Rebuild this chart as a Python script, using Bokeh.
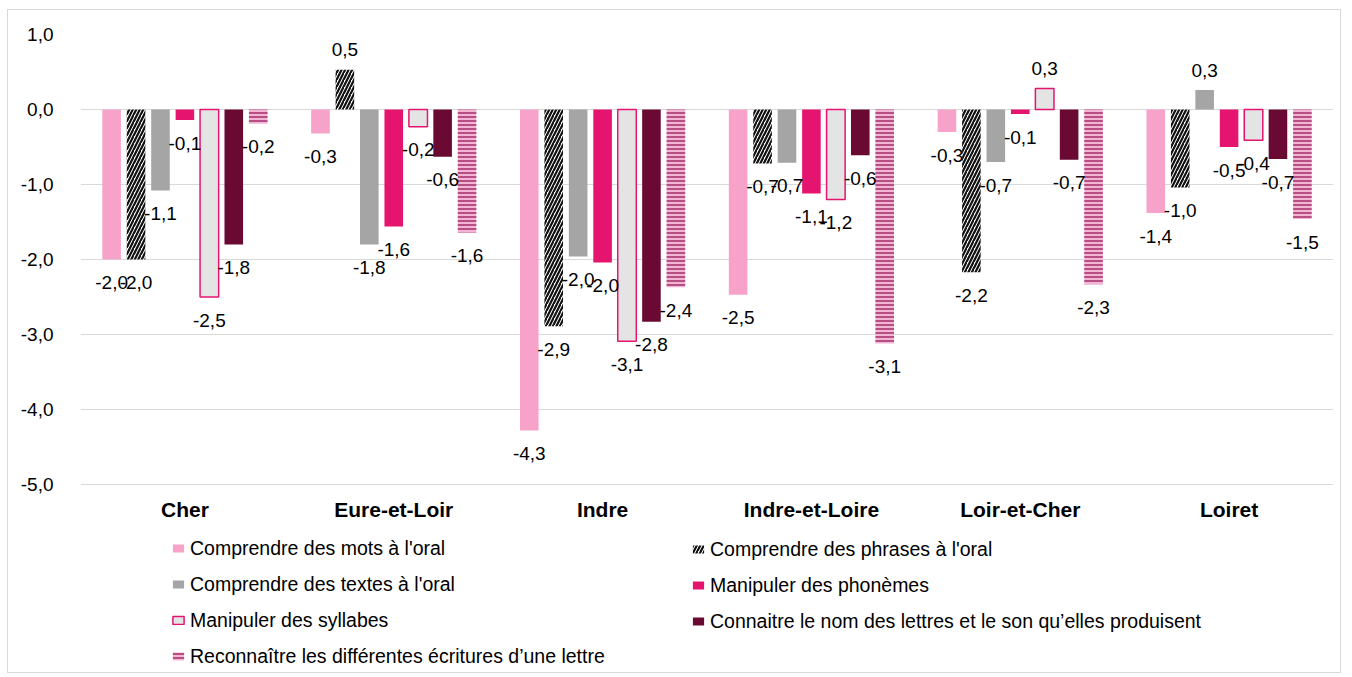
from bokeh.plotting import figure
from bokeh.models import (ColumnDataSource, FactorRange, Range1d, FixedTicker,
                          CustomJSTickFormatter, Legend, LegendItem)
from bokeh.transform import dodge
from bokeh.core.properties import value
from bokeh.embed import file_html
from bokeh.resources import INLINE

categories = ["Cher", "Eure-et-Loir", "Indre", "Indre-et-Loire", "Loir-et-Cher", "Loiret"]

mots = [-2.00, -0.32, -4.28, -2.47, -0.30, -1.38]
phrases = [-2.00, 0.53, -2.89, -0.72, -2.17, -1.04]
textes = [-1.08, -1.80, -1.96, -0.71, -0.70, 0.26]
phonemes = [-0.14, -1.56, -2.04, -1.12, -0.06, -0.50]
syllabes = [-2.50, -0.23, -3.09, -1.20, 0.28, -0.41]
nom_lettres = [-1.80, -0.63, -2.83, -0.61, -0.67, -0.66]
ecritures = [-0.19, -1.64, -2.37, -3.12, -2.33, -1.46]

y_ticks = [-5, -4, -3, -2, -1, 0, 1]

series_names = [
    "Comprendre des mots à l'oral",
    "Comprendre des phrases à l'oral",
    "Comprendre des textes à l'oral",
    "Manipuler des phonèmes",
    "Manipuler des syllabes",
    "Connaitre le nom des lettres et le son qu’elles produisent",
    "Reconnaître les différentes écritures d’une lettre",
]
series_values = [mots, phrases, textes, phonemes, syllabes, nom_lettres, ecritures]

styles = [
    dict(fill_color="#F7A3C9", line_color=None),
    dict(fill_color="white", line_color=None, hatch_pattern="/", hatch_color="#111111",
         hatch_scale=7, hatch_weight=2.2),
    dict(fill_color="#A5A5A5", line_color=None),
    dict(fill_color="#E5156F", line_color=None),
    dict(fill_color="#E4E4E4", line_color="#E5156F", line_width=1.5),
    dict(fill_color="#6A0A33", line_color=None),
    dict(fill_color="#F3B5D4", line_color=None, hatch_pattern="-", hatch_color="#A8346F",
         hatch_scale=4, hatch_weight=1.6),
]

FONT = "Liberation Sans"
FS = "19px"

# frame: 1.0 at top, 75 px per unit, frame extends down to hold the legend
H = 664
MB_TOP, MB_BOTTOM = 24, 4
frame_h = H - MB_TOP - MB_BOTTOM
y_top = 1.0
y_bottom = y_top - frame_h / 75.0

p = figure(x_range=FactorRange(*categories), y_range=Range1d(y_bottom, y_top),
           width=1334, height=H, output_backend="svg", toolbar_location=None,
           min_border_left=72, min_border_right=9, min_border_top=MB_TOP,
           min_border_bottom=MB_BOTTOM,
           styles={"border": "1px solid #D9D9D9", "margin-left": "7px", "margin-top": "9px"})
p.outline_line_color = None
p.xgrid.grid_line_color = None
p.ygrid.grid_line_color = "#D9D9D9"
p.ygrid.grid_line_width = 1

p.yaxis.ticker = FixedTicker(ticks=y_ticks)
p.yaxis.formatter = CustomJSTickFormatter(code="return tick.toFixed(1).replace('.', ',');")
p.yaxis.axis_line_color = None
p.yaxis.major_tick_line_color = None
p.yaxis.minor_tick_line_color = None
p.yaxis.major_label_text_font = FONT
p.yaxis.major_label_text_font_size = FS
p.yaxis.major_label_text_color = "#000000"
p.yaxis.major_label_standoff = 21
p.xaxis.visible = False

step = 0.117
bar_w = 0.089
renderers = []
label_sources = []
for i, (name, vals, st) in enumerate(zip(series_names, series_values, styles)):
    off = (i - 3) * step
    src = ColumnDataSource(dict(
        cat=categories,
        val=vals,
        lbl=[f"{v:.1f}".replace(".", ",") for v in vals],
        yoff=[23 if v < 0 else -20 for v in vals],
    ))
    r = p.vbar(x=dodge("cat", off, range=p.x_range), top="val", bottom=0, width=bar_w,
               source=src, **st)
    renderers.append(r)
    label_sources.append((src, off))

for src, off in label_sources:
    p.text(x=dodge("cat", off, range=p.x_range), y="val", text="lbl", source=src,
           y_offset="yoff", text_align="center", text_baseline="middle",
           text_font=value(FONT), text_font_size=FS, text_color="#000000")

# category labels under the -5 gridline
cat_src = ColumnDataSource(dict(cat=categories, y=[min(y_ticks)] * len(categories)))
p.text(x="cat", y="y", text="cat", source=cat_src, y_offset=25,
       text_align="center", text_baseline="middle", text_font=value(FONT),
       text_font_size="21px", text_font_style="bold", text_color="#000000")

def make_legend(idx, loc):
    leg = Legend(items=[LegendItem(label=series_names[k], renderers=[renderers[k]]) for k in idx],
                 location=loc, orientation="vertical")
    leg.border_line_color = None
    leg.background_fill_alpha = 0
    leg.padding = 0
    leg.margin = 0
    leg.spacing = 13
    leg.label_height = 21
    leg.glyph_width = 14
    leg.glyph_height = 10
    leg.label_standoff = 5
    leg.label_text_font = FONT
    leg.label_text_font_size = "19.5px"
    leg.label_text_color = "#000000"
    leg.label_text_baseline = "middle"
    return leg

p.add_layout(make_legend([0, 2, 4, 6], (91, 2.5)), "center")
p.add_layout(make_legend([1, 3, 5], (611, 37.5)), "center")

open("out.html", "w").write(file_html(p, INLINE))
